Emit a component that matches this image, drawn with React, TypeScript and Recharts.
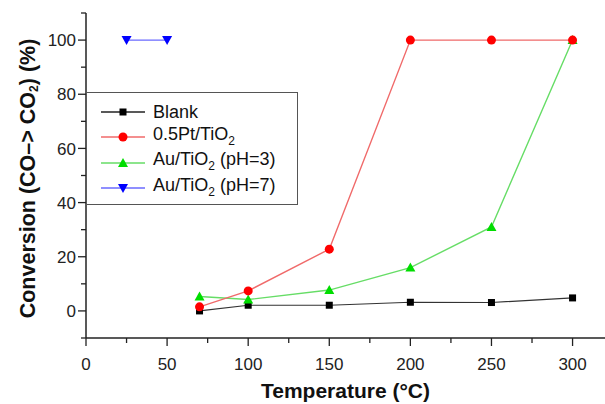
import React from "react";
import { LineChart, Line, XAxis, YAxis } from "recharts";

const temps = [70, 100, 150, 200, 250, 300];
const blankVals = [0, 2.1, 2.1, 3.2, 3.1, 4.8];
const ptVals = [1.5, 7.4, 22.8, 100, 100, 100];
const au3Vals = [5.3, 4.2, 7.7, 16, 31, 100];
const au7Temps = [25, 50];
const au7Vals = [100, 100];

const xTicks = [0, 25, 50, 75, 100, 125, 150, 175, 200, 225, 250, 275, 300];
const xMajor = [0, 50, 100, 150, 200, 250, 300];
const yTicks = [-10, 0, 10, 20, 30, 40, 50, 60, 70, 80, 90, 100, 110];
const yMajor = [0, 20, 40, 60, 80, 100];

const blankData = temps.map((t, i) => ({ t, v: blankVals[i] }));
const ptData = temps.map((t, i) => ({ t, v: ptVals[i] }));
const au3Data = temps.map((t, i) => ({ t, v: au3Vals[i] }));
const au7Data = au7Temps.map((t, i) => ({ t, v: au7Vals[i] }));

const FONT = "'Liberation Sans', Arial, Helvetica, sans-serif";
const AX = "#222";

const Square = (p: any) => {
  const { cx, cy, fill } = p;
  if (cx == null || cy == null) return null;
  return <rect x={cx - 3.5} y={cy - 3.5} width={7} height={7} fill={fill} />;
};
const Circle = (p: any) => {
  const { cx, cy, fill } = p;
  if (cx == null || cy == null) return null;
  return <circle cx={cx} cy={cy} r={4.5} fill={fill} />;
};
const TriUp = (p: any) => {
  const { cx, cy, fill } = p;
  if (cx == null || cy == null) return null;
  return <polygon points={`${cx - 5},${cy + 4} ${cx + 5},${cy + 4} ${cx},${cy - 5}`} fill={fill} />;
};
const TriDown = (p: any) => {
  const { cx, cy, fill } = p;
  if (cx == null || cy == null) return null;
  return <polygon points={`${cx - 5},${cy - 4} ${cx + 5},${cy - 4} ${cx},${cy + 5}`} fill={fill} />;
};

const XTick = (p: any) => {
  const { x, y, payload } = p;
  const major = xMajor.includes(payload.value);
  return (
    <g>
      <line x1={x} x2={x} y1={y} y2={y + (major ? 8 : 5)} stroke={AX} strokeWidth={1.3} />
      {major && (
        <text x={x} y={y + 20} dy="0.71em" textAnchor="middle" fontSize={17} fill={AX} fontFamily={FONT}>
          {payload.value}
        </text>
      )}
    </g>
  );
};

const YTick = (p: any) => {
  const { x, y, payload } = p;
  const major = yMajor.includes(payload.value);
  return (
    <g>
      <line x1={x} x2={x - (major ? 8 : 5)} y1={y} y2={y} stroke={AX} strokeWidth={1.3} />
      {major && (
        <text x={x - 10} y={y} dy="0.36em" textAnchor="end" fontSize={17} fill={AX} fontFamily={FONT}>
          {payload.value}
        </text>
      )}
    </g>
  );
};

const legendItems = [
  { label: <>Blank</>, line: "#222", fill: "#000", shape: "square" },
  { label: <>0.5Pt/TiO<sub style={{ fontSize: 12 }}>2</sub></>, line: "#f06a6a", fill: "#ff0000", shape: "circle" },
  { label: <>Au/TiO<sub style={{ fontSize: 12 }}>2</sub> (pH=3)</>, line: "#66dd66", fill: "#00dd00", shape: "up" },
  { label: <>Au/TiO<sub style={{ fontSize: 12 }}>2</sub> (pH=7)</>, line: "#6a6aff", fill: "#0000ff", shape: "down" },
];

const LegendBox = () => (
  <div
    style={{
      position: "absolute",
      left: 87,
      top: 92,
      width: 211,
      height: 113,
      border: "1px solid #555",
      borderLeft: "none",
      background: "#fff",
      boxSizing: "border-box",
      fontFamily: FONT,
      fontSize: 18,
      color: "#111",
      paddingTop: 6,
    }}
  >
    {legendItems.map((it, i) => (
      <div key={i} style={{ display: "flex", alignItems: "center", height: 25.5, lineHeight: "18px" }}>
        <svg width={62} height={20} style={{ marginLeft: 14, flex: "none" }}>
          <line x1={0} x2={44} y1={10} y2={10} stroke={it.line} strokeWidth={1.3} />
          {it.shape === "square" && <Square cx={22} cy={10} fill={it.fill} />}
          {it.shape === "circle" && <Circle cx={22} cy={10} fill={it.fill} />}
          {it.shape === "up" && <TriUp cx={22} cy={10} fill={it.fill} />}
          {it.shape === "down" && <TriDown cx={22} cy={10} fill={it.fill} />}
        </svg>
        <span style={{ whiteSpace: "nowrap", marginLeft: -10 }}>{it.label}</span>
      </div>
    ))}
  </div>
);

export default function App() {
  return (
    <div style={{ position: "absolute", left: 0, top: 0, width: 605, height: 404, background: "#fff" }}>
      <LineChart width={605} height={404} margin={{ top: 13, right: 0, bottom: 0, left: 0 }}>
        <XAxis
          dataKey="t"
          type="number"
          domain={[0, 320]}
          ticks={xTicks}
          interval={0}
          tick={<XTick />}
          tickLine={false}
          tickSize={0}
          tickMargin={0}
          height={66}
          axisLine={{ stroke: AX, strokeWidth: 1.5 }}
          allowDataOverflow
          label={{
            value: "Temperature (°C)",
            position: "insideBottom",
            offset: 6,
            style: { fontSize: 21, fontWeight: "bold", fill: "#111", fontFamily: FONT },
          }}
        />
        <YAxis
          type="number"
          domain={[-10, 110]}
          ticks={yTicks}
          interval={0}
          tick={<YTick />}
          tickLine={false}
          tickSize={0}
          tickMargin={0}
          width={86}
          axisLine={{ stroke: AX, strokeWidth: 1.5 }}
          allowDataOverflow
          label={(props: any) => {
            const vb = props.viewBox || {};
            const cy = (vb.y ?? 13) + (vb.height ?? 325) / 2 + 3;
            return (
              <text
                x={28}
                y={cy}
                transform={`rotate(-90, 28, ${cy})`}
                textAnchor="middle"
                dominantBaseline="central"
                fontSize={21.5}
                fontWeight="bold"
                fill="#111"
                fontFamily={FONT}
              >
                Conversion (CO–&gt; CO
                <tspan fontSize={12} dy={6}>2</tspan>
                <tspan dy={-6}>) (%)</tspan>
              </text>
            );
          }}
        />
        <Line data={blankData} dataKey="v" name="Blank" stroke="#333" strokeWidth={1.2} dot={<Square fill="#000" />} activeDot={false} isAnimationActive={false} />
        <Line data={au3Data} dataKey="v" name="Au/TiO2 (pH=3)" stroke="#66dd66" strokeWidth={1.4} dot={<TriUp fill="#00dd00" />} activeDot={false} isAnimationActive={false} />
        <Line data={ptData} dataKey="v" name="0.5Pt/TiO2" stroke="#f06a6a" strokeWidth={1.4} dot={<Circle fill="#ff0000" />} activeDot={false} isAnimationActive={false} />
        <Line data={au7Data} dataKey="v" name="Au/TiO2 (pH=7)" stroke="#6a6aff" strokeWidth={1.4} dot={<TriDown fill="#0000ff" />} activeDot={false} isAnimationActive={false} />
      </LineChart>
      <LegendBox />
    </div>
  );
}
